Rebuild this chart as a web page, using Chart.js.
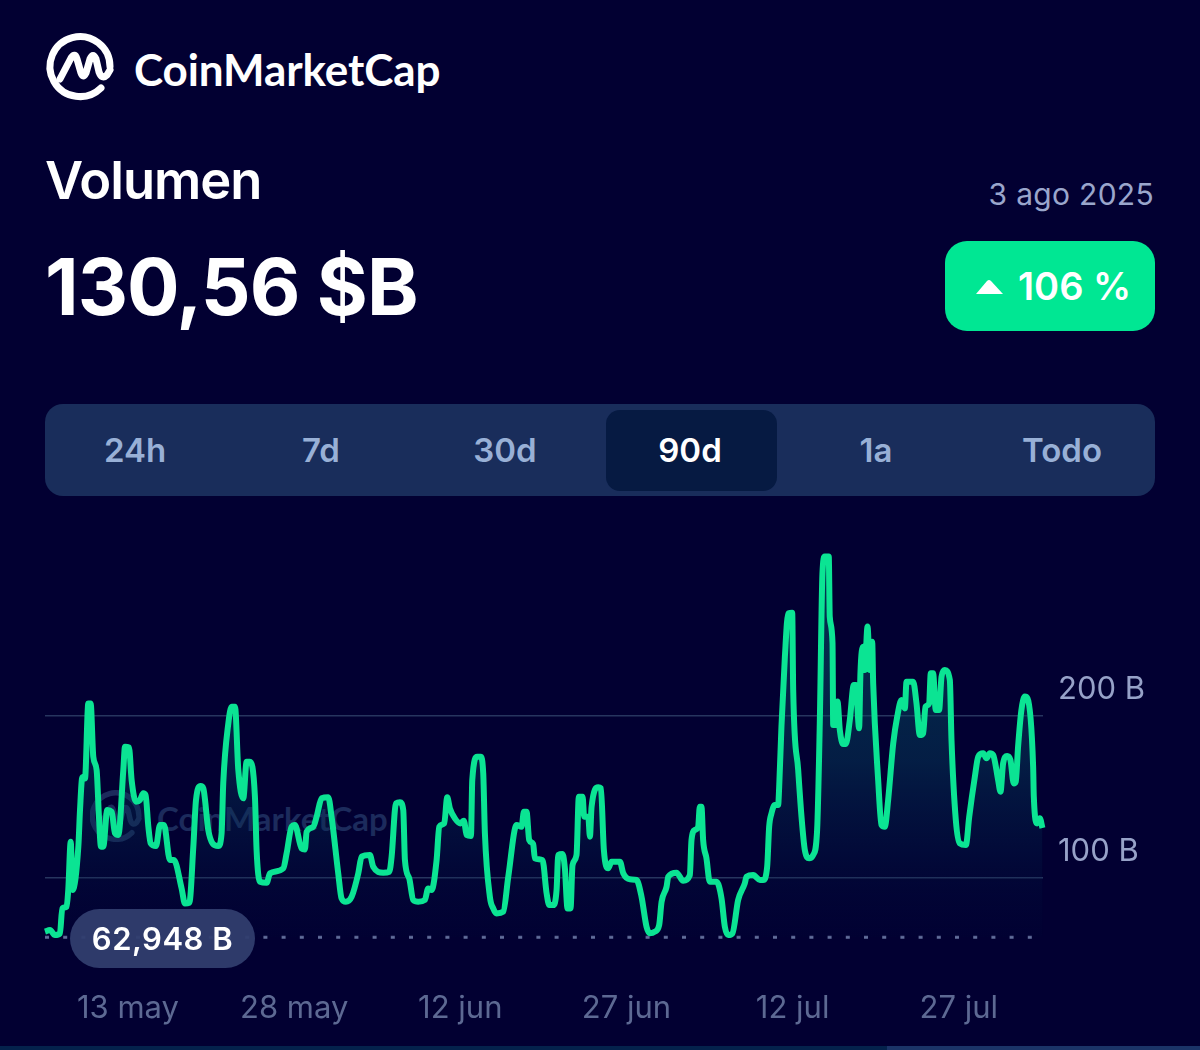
<!DOCTYPE html>
<html lang="es">
<head>
<meta charset="utf-8">
<title>CoinMarketCap Volumen</title>
<script src="https://cdn.jsdelivr.net/npm/chart.js@4"></script>
<style>
  html, body { margin: 0; padding: 0; background: #020032; }
  body { position: relative; width: 1200px; height: 1050px; overflow: hidden; font-family: Inter, sans-serif; color: #fff; }
  .abs { position: absolute; white-space: nowrap; }
  #chartWrap { position: absolute; left: 0; top: 520px; width: 1200px; height: 530px; z-index: 2; }
  .brand { font-family: Lato, sans-serif; font-weight: 700; }
  .tab { position: absolute; top: 404px; height: 92px; line-height: 93px; width: 170px; text-align: center; font-size: 33px; font-weight: 600; color: #98b0d6; z-index: 2; }
</style>
</head>
<body>
<!-- logo -->
<svg class="abs" style="left:0;top:0" width="130" height="110" fill="none" stroke="#fff" stroke-width="7" stroke-linecap="round" stroke-linejoin="round">
  <path d="M110 66.5 A30 30 0 1 0 101 88"/>
  <path d="M60 79 L71 58 Q75 52 77 59 L81 73 Q83 79 86 73 L90 59 Q93 52 96 59 L99 72 Q102 80 107 75 L110 70"/>
</svg>
<div class="abs brand" style="left:134px;top:43px;font-size:44px;line-height:52px;letter-spacing:-0.1px">CoinMarketCap</div>

<div class="abs" style="left:45px;top:150px;font-size:52.5px;line-height:60px;font-weight:600;letter-spacing:-1px">Volumen</div>
<div class="abs" style="left:45px;top:241px;font-size:78px;line-height:92px;font-weight:700;letter-spacing:-1px">130,56 $B</div>
<div class="abs" style="right:46px;top:176px;font-size:30px;line-height:36px;color:#9aa6cc;letter-spacing:0.3px">3 ago 2025</div>

<div class="abs" style="left:945px;top:241px;width:210px;height:90px;border-radius:22px;background:#00e793"></div>
<svg class="abs" style="left:975px;top:278px" width="30" height="17"><path d="M1 16 L12 3 Q14 1 16 3 L28 16 Z" fill="#fff"/></svg>
<div class="abs" style="left:1018px;top:262px;font-size:38px;line-height:48px;font-weight:600">106 %</div>

<!-- range tabs -->
<div class="abs" style="left:45px;top:404px;width:1110px;height:92px;border-radius:18px;background:#192d5b"></div>
<div class="abs" style="left:606px;top:410px;width:171px;height:81px;border-radius:14px;background:#061a42;z-index:1"></div>
<div class="tab" style="left:50px">24h</div>
<div class="tab" style="left:236px">7d</div>
<div class="tab" style="left:420px">30d</div>
<div class="tab" style="left:605px;color:#fff">90d</div>
<div class="tab" style="left:791px">1a</div>
<div class="tab" style="left:977px">Todo</div>

<!-- watermark sits under the canvas -->
<svg class="abs" style="left:90px;top:790px;z-index:1" width="52" height="52" viewBox="47 33 67 67" fill="none" stroke="#1c2b5c" stroke-width="7" stroke-linecap="round" stroke-linejoin="round">
  <path d="M110 66.5 A30 30 0 1 0 101 88"/>
  <path d="M60 79 L71 58 Q75 52 77 59 L81 73 Q83 79 86 73 L90 59 Q93 52 96 59 L99 72 Q102 80 107 75 L110 70"/>
</svg>
<div class="abs brand" style="left:157px;top:798px;font-size:33px;line-height:40px;color:#1c2b5c;z-index:1">CoinMarketCap</div>

<div id="chartWrap"><canvas id="volumeChart" width="1200" height="530"></canvas></div>

<div class="abs" style="left:70px;top:909px;width:185px;height:59px;line-height:60px;border-radius:30px;background:rgba(48,61,110,0.95);text-align:center;font-size:31px;font-weight:600;letter-spacing:0.5px;z-index:3">62,948 B</div>

<div class="abs" style="left:0;top:1046px;width:887px;height:4px;background:#04224c;z-index:3"></div>
<div class="abs" style="left:887px;top:1046px;width:313px;height:4px;background:#1b3468;z-index:3"></div>

<script>
// days counted from 13 may, volumes in billions
const dayOffsets = [
  -7.49,-7.04,-6.59,-6.14,-5.93,-5.54,-5.39,-5.17,-5.0,-4.48,-4.33,-4.12,-3.88,-3.58,-3.37,-3.13,-2.83,-2.62,-2.44,-2.23,
  -1.87,-1.47,-1.17,-0.87,-0.42,-0.27,0.09,0.33,0.72,1.08,1.38,1.59,1.84,2.05,2.53,2.89,3.25,3.79,4.15,4.84,
  5.14,5.54,5.9,6.14,6.56,6.8,7.25,7.64,8.15,8.45,8.6,9.06,9.36,9.66,9.96,10.41,10.71,11.01,11.46,11.61,
  11.91,12.52,12.82,14.02,14.32,14.77,15.07,15.67,15.97,16.13,16.73,17.03,17.48,18.08,18.38,18.98,19.28,19.67,20.19,20.79,
  21.09,21.84,22.14,23.04,23.59,23.8,24.19,24.55,24.85,25.0,25.39,25.75,26.2,26.8,27.1,27.41,27.86,28.1,28.55,28.82,
  29.06,29.51,30.02,30.32,30.57,30.96,31.08,31.53,31.83,32.07,32.22,32.67,32.97,33.27,33.88,34.33,35.08,35.53,35.74,35.98,
  36.22,36.58,36.73,37.42,37.79,38.03,38.39,38.69,38.84,39.23,39.44,39.68,39.95,40.13,40.49,40.7,41.04,41.18,41.55,41.7,
  41.85,42.45,42.69,42.96,43.35,43.65,44.41,44.71,45.31,45.91,46.36,46.81,47.11,47.56,47.95,48.17,48.62,48.77,49.52,50.12,
  50.72,50.87,51.17,51.47,51.62,51.77,51.92,52.22,52.52,53.13,53.58,53.88,54.18,54.57,55.08,55.68,55.84,56.44,57.04,57.34,
  57.7,57.88,58.09,58.39,58.69,58.78,58.99,59.3,59.6,59.96,60.05,60.5,60.8,61.1,61.49,61.85,62.21,62.45,62.69,62.9,
  63.26,63.35,63.6,63.66,63.87,64.05,64.26,64.56,64.8,65.16,65.52,65.7,66.0,66.12,66.36,66.51,66.76,66.97,67.18,67.27,
  67.72,68.02,68.32,68.62,69.08,69.44,69.83,70.13,70.28,70.88,71.18,71.48,71.78,71.99,72.32,72.47,72.68,72.92,73.22,73.44,
  73.74,74.19,74.34,74.73,75.09,75.64,75.94,76.45,76.75,77.2,77.5,77.8,78.1,78.55,78.76,79.0,79.36,79.66,79.96,80.14,
  80.35,80.65,80.96,81.2,81.71,81.77,82.07,82.31,82.55
];
const volumes = [
  66.4,67.4,64.3,65.4,80.8,81.9,92.2,122.1,92.2,119.0,141.6,161.9,161.2,207.6,207.6,174.6,166.4,137.5,119.0,119.0,
  141.6,140.6,127.2,126.2,166.4,180.8,180.4,160.2,146.8,147.8,152.0,150.9,131.3,121.0,119.4,132.4,132.4,110.7,110.7,93.2,
  83.9,84.3,119.0,147.8,156.5,155.1,129.3,121.0,119.4,127.2,158.1,195.3,205.6,205.6,166.4,148.9,171.5,171.5,149.9,116.9,
  97.3,96.7,102.5,105.6,114.8,131.3,132.4,117.9,117.3,128.2,131.3,137.5,148.9,149.5,137.5,102.5,87.0,84.9,88.0,102.5,
  112.8,113.8,106.6,102.9,103.5,112.8,145.8,146.4,141.6,110.7,99.4,86.0,84.9,86.0,93.2,92.2,110.7,131.3,133.4,149.5,
  142.7,136.5,133.4,135.1,126.2,125.6,160.2,174.6,174.6,164.3,127.2,88.0,80.8,77.7,78.8,100.4,132.4,131.3,140.6,140.6,
  123.1,120.6,111.8,110.7,90.1,82.9,82.9,92.2,113.8,114.4,105.6,80.8,80.8,107.6,113.8,149.9,149.9,137.5,137.5,125.2,
  143.7,155.7,155.1,116.9,105.6,109.7,109.7,102.5,98.8,98.4,88.0,69.5,65.4,66.4,70.5,84.9,94.2,100.4,102.9,97.9,
  101.4,123.1,129.3,131.3,143.7,143.7,123.1,111.8,97.3,97.3,87.0,69.5,64.3,65.4,86.0,96.3,100.4,101.4,98.4,98.4,
  106.6,131.3,139.6,144.7,144.7,155.1,193.2,236.5,263.3,263.7,215.9,166.4,137.5,116.9,111.8,113.8,129.3,195.3,288.0,298.4,
  298.4,261.2,244.7,194.2,194.2,208.7,191.1,182.5,182.5,197.3,219.0,219.0,192.2,226.2,242.7,228.2,255.1,228.2,245.8,220.0,
  160.2,132.4,131.3,147.8,182.9,199.4,209.7,204.5,221.0,221.0,207.6,188.0,189.1,205.6,207.6,226.2,226.2,203.5,203.5,224.1,
  228.2,222.1,184.9,135.5,121.0,120.0,137.5,162.3,174.6,176.7,173.6,176.7,175.7,160.2,153.0,170.5,175.1,172.6,158.1,159.2,
  180.8,203.5,211.8,210.7,168.5,149.9,133.4,136.5,130.56
];
const lowValue = 62.948;
const xTickDays = [0, 15, 30, 45, 60, 75];
const xTickLabels = ['13 may', '28 may', '12 jun', '27 jun', '12 jul', '27 jul'];
const yTickValues = [100, 200];
const yTickLabels = ['100 B', '200 B'];

const firstDay = -7.49;
const lastDay = 82.6;

const points = dayOffsets.map((d, i) => ({ x: d, y: volumes[i] }));

function areaGradient(context) {
  const area = context.chart.chartArea;
  if (!area) return 'transparent';
  const g = context.chart.ctx.createLinearGradient(0, area.top, 0, area.bottom);
  g.addColorStop(0, 'rgba(8,90,105,0.6)');
  g.addColorStop(0.55, 'rgba(6,70,95,0.42)');
  g.addColorStop(1, 'rgba(2,10,60,0.1)');
  return g;
}

new Chart(document.getElementById('volumeChart').getContext('2d'), {
  type: 'line',
  data: {
    datasets: [
      {
        data: points,
        borderColor: '#0be493',
        borderWidth: 6,
        borderJoinStyle: 'round',
        pointRadius: 0,
        cubicInterpolationMode: 'monotone',
        fill: 'start',
        backgroundColor: areaGradient,
        clip: false,
        order: 1
      },
      {
        data: [{ x: firstDay, y: lowValue }, { x: lastDay, y: lowValue }],
        borderColor: '#626e9a',
        borderWidth: 3,
        borderDash: [4, 14.2],
        pointRadius: 0,
        fill: false,
        clip: false,
        order: 2
      }
    ]
  },
  options: {
    responsive: false,
    animation: false,
    events: [],
    layout: { padding: { left: 45, top: 25.9, right: 0, bottom: 0 } },
    plugins: { legend: { display: false }, tooltip: { enabled: false } },
    scales: {
      x: {
        type: 'linear',
        min: firstDay,
        max: lastDay,
        afterBuildTicks: s => { s.ticks = xTickDays.map(v => ({ value: v })); },
        afterFit: s => { s.height = 112.7; },
        grid: { display: false },
        border: { display: false },
        ticks: {
          autoSkip: false,
          maxRotation: 0,
          padding: 45,
          color: '#5d6993',
          font: { family: 'Inter', size: 31 },
          callback: (v, i) => xTickLabels[i]
        }
      },
      y: {
        position: 'right',
        min: lowValue,
        max: 305,
        afterBuildTicks: s => { s.ticks = yTickValues.map(v => ({ value: v })); },
        afterFit: s => { s.width = 157; s.paddingTop = 0; s.paddingBottom = 0; },
        grid: { color: '#27355f', lineWidth: 1.5, drawTicks: false },
        border: { display: false },
        ticks: {
          padding: 15,
          labelOffset: -26,
          color: '#97a2c8',
          font: { family: 'Inter', size: 31 },
          callback: (v, i) => yTickLabels[i]
        }
      }
    }
  }
});
</script>
</body>
</html>
